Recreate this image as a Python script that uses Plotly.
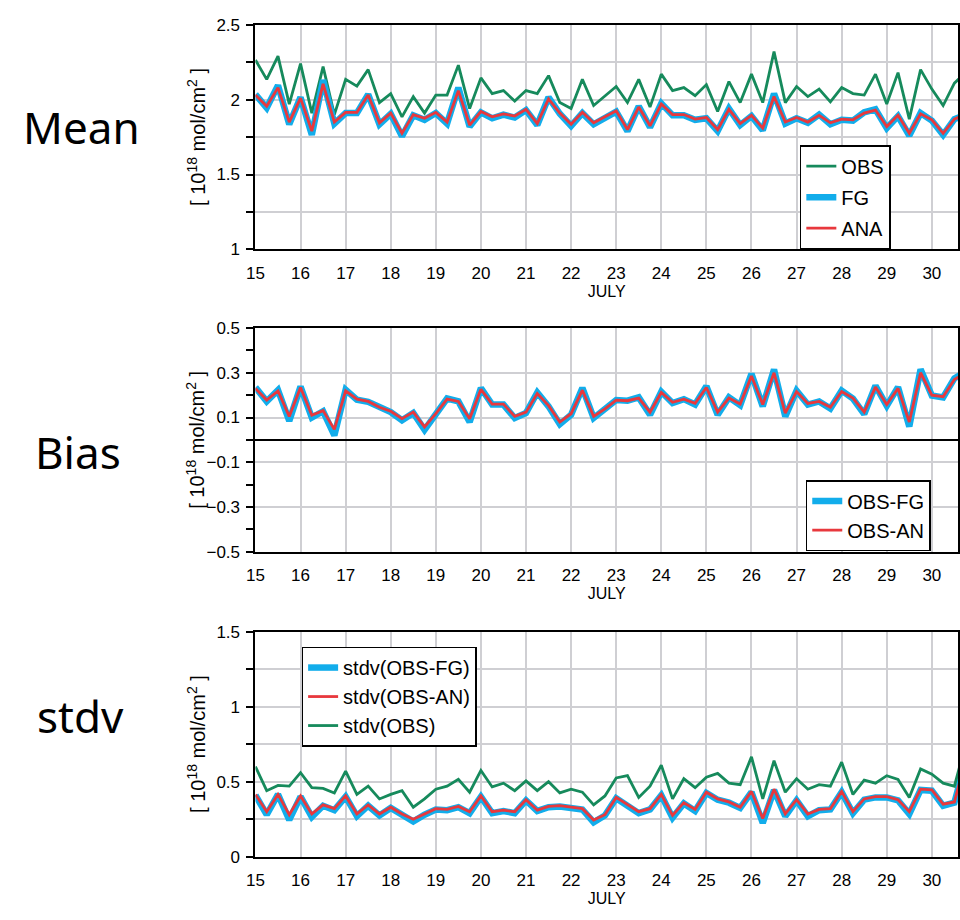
import numpy as np
import plotly.graph_objects as go

# 6-hourly analysis times, July 15 00UTC .. July 30 18UTC
days = np.arange(15.0, 31.0, 0.25)

# ---- Mean column [1e18 mol/cm2] ----
mean_obs = [2.265, 2.135, 2.29, 1.97,
            2.24, 1.91, 2.22, 1.90,
            2.135, 2.09, 2.20, 1.98,
            2.04, 1.885, 2.02, 1.91,
            2.03, 2.03, 2.23, 1.94,
            2.145, 2.04, 2.06, 1.99,
            2.06, 2.04, 2.16, 1.98,
            1.94, 2.135, 1.96, 2.026,
            2.087, 1.98, 2.135, 1.95,
            2.17, 2.06, 2.08, 2.026,
            2.10, 1.92, 2.12, 1.98,
            2.17, 1.98, 2.32, 1.98,
            2.087, 2.02, 2.07, 1.985,
            2.08, 2.04, 2.03, 2.17,
            1.97, 2.18, 1.87, 2.20,
            2.07, 1.96, 2.11, 2.18]
mean_fg = [2.035, 1.945, 2.095, 1.835,
           2.015, 1.765, 2.13, 1.84,
           1.91, 1.91, 2.035, 1.835,
           1.905, 1.755, 1.895, 1.865,
           1.91, 1.84, 2.08, 1.82,
           1.915, 1.875, 1.90, 1.88,
           1.93, 1.83, 2.015, 1.905,
           1.825, 1.91, 1.835, 1.88,
           1.92, 1.79, 1.955, 1.815,
           1.975, 1.895, 1.895, 1.865,
           1.875, 1.79, 1.94, 1.83,
           1.89, 1.795, 2.04, 1.84,
           1.875, 1.845, 1.90, 1.835,
           1.865, 1.86, 1.915, 1.935,
           1.81, 1.89, 1.76, 1.91,
           1.86, 1.765, 1.87, 1.90]
mean_ana = [2.03, 1.955, 2.08, 1.85,
            2.01, 1.79, 2.105, 1.85,
            1.915, 1.915, 2.03, 1.845,
            1.91, 1.775, 1.90, 1.875,
            1.915, 1.85, 2.06, 1.83,
            1.92, 1.885, 1.905, 1.89,
            1.935, 1.84, 2.005, 1.91,
            1.835, 1.915, 1.845, 1.885,
            1.925, 1.80, 1.95, 1.825,
            1.97, 1.90, 1.90, 1.87,
            1.88, 1.80, 1.935, 1.84,
            1.895, 1.81, 2.02, 1.85,
            1.88, 1.85, 1.895, 1.845,
            1.87, 1.865, 1.91, 1.93,
            1.82, 1.895, 1.775, 1.905,
            1.865, 1.775, 1.87, 1.90]

# ---- Bias ----
bias_fg = [0.235, 0.172, 0.222, 0.085,
           0.238, 0.10, 0.128, 0.02,
           0.224, 0.18, 0.17, 0.143,
           0.124, 0.088, 0.12, 0.045,
           0.112, 0.185, 0.172, 0.08,
           0.232, 0.158, 0.158, 0.098,
           0.12, 0.212, 0.15, 0.07,
           0.112, 0.232, 0.098, 0.135,
           0.178, 0.175, 0.19, 0.112,
           0.215, 0.165, 0.182, 0.158,
           0.24, 0.112, 0.19, 0.155,
           0.295, 0.15, 0.315, 0.105,
           0.22, 0.158, 0.172, 0.14,
           0.22, 0.185, 0.115, 0.242,
           0.152, 0.236, 0.06, 0.315,
           0.198, 0.19, 0.275, 0.305]
bias_an = [0.23, 0.178, 0.219, 0.105,
           0.234, 0.11, 0.131, 0.047,
           0.219, 0.182, 0.172, 0.146,
           0.128, 0.095, 0.124, 0.058,
           0.117, 0.182, 0.172, 0.095,
           0.226, 0.16, 0.16, 0.105,
           0.124, 0.207, 0.153, 0.08,
           0.117, 0.222, 0.105, 0.139,
           0.178, 0.175, 0.187, 0.124,
           0.212, 0.168, 0.182, 0.163,
           0.234, 0.124, 0.187, 0.16,
           0.285, 0.158, 0.30, 0.12,
           0.216, 0.163, 0.172, 0.146,
           0.216, 0.187, 0.124, 0.236,
           0.158, 0.23, 0.08, 0.30,
           0.20, 0.193, 0.27, 0.30]

# ---- Standard deviation ----
stdv_fg = [0.41, 0.28, 0.415, 0.245,
           0.40, 0.265, 0.34, 0.31,
           0.40, 0.27, 0.34, 0.275,
           0.325, 0.275, 0.235, 0.28,
           0.315, 0.31, 0.33, 0.29,
           0.40, 0.29, 0.305, 0.29,
           0.375, 0.305, 0.33, 0.335,
           0.325, 0.315, 0.23, 0.275,
           0.39, 0.34, 0.29, 0.315,
           0.41, 0.26, 0.355, 0.305,
           0.425, 0.38, 0.36, 0.325,
           0.43, 0.225, 0.445, 0.27,
           0.375, 0.27, 0.31, 0.315,
           0.43, 0.29, 0.38, 0.395,
           0.395, 0.375, 0.285, 0.445,
           0.44, 0.34, 0.36, 0.64]
stdv_an = [0.415, 0.30, 0.415, 0.28,
           0.405, 0.285, 0.345, 0.32,
           0.405, 0.285, 0.345, 0.285,
           0.33, 0.285, 0.25, 0.285,
           0.32, 0.315, 0.335, 0.30,
           0.405, 0.30, 0.31, 0.30,
           0.38, 0.31, 0.335, 0.34,
           0.33, 0.32, 0.245, 0.28,
           0.395, 0.345, 0.30, 0.32,
           0.415, 0.275, 0.36, 0.315,
           0.43, 0.385, 0.365, 0.33,
           0.435, 0.255, 0.45, 0.285,
           0.38, 0.285, 0.315, 0.32,
           0.435, 0.30, 0.385, 0.40,
           0.40, 0.38, 0.30, 0.45,
           0.445, 0.35, 0.365, 0.65]
stdv_obs = [0.60, 0.44, 0.475, 0.47,
            0.56, 0.46, 0.455, 0.425,
            0.57, 0.415, 0.47, 0.385,
            0.415, 0.44, 0.33, 0.385,
            0.45, 0.47, 0.515, 0.43,
            0.575, 0.465, 0.49, 0.44,
            0.505, 0.44, 0.50, 0.425,
            0.45, 0.43, 0.345, 0.405,
            0.525, 0.54, 0.395, 0.47,
            0.61, 0.385, 0.52, 0.46,
            0.53, 0.555, 0.49, 0.48,
            0.665, 0.385, 0.64, 0.43,
            0.52, 0.45, 0.48, 0.47,
            0.63, 0.415, 0.51, 0.49,
            0.54, 0.515, 0.395, 0.585,
            0.55, 0.49, 0.47, 0.75]

day_ticks = list(range(15, 32))
panel_names = ["Mean", "Bias", "stdv"]
unit_label = "[ 10<sup>18</sup> mol/cm<sup>2</sup> ]"

GREEN = "#168a5c"
BLUE = "#12adeb"
RED = "#e8383d"
W, H = 960, 920
FONT = "Liberation Sans, Arial, Helvetica, sans-serif"

def px_y(p):
    return 1 - p / H

# pixel extents of the three plot boxes (top, bottom)
boxes = [(16, 245.5), (325.7, 554.3), (635.7, 865.6)]
x_left = 249.3

fig = go.Figure()

def line(y, color, width, name, idx, legend):
    suffix = "" if idx == 1 else str(idx)
    fig.add_trace(go.Scatter(
        x=days, y=y, mode="lines", name=name,
        line=dict(color=color, width=width),
        xaxis="x" + suffix, yaxis="y" + suffix,
        legend=legend, legendgroup=name, showlegend=True))

line(mean_obs, GREEN, 2.8, "OBS", 1, "legend")
line(mean_fg, BLUE, 6.5, "FG", 1, "legend")
line(mean_ana, RED, 2.8, "ANA", 1, "legend")

line(bias_fg, BLUE, 6.5, "OBS-FG", 2, "legend2")
line(bias_an, RED, 2.8, "OBS-AN", 2, "legend2")

line(stdv_fg, BLUE, 6.5, "stdv(OBS-FG)", 3, "legend3")
line(stdv_an, RED, 2.8, "stdv(OBS-AN)", 3, "legend3")
line(stdv_obs, GREEN, 2.8, "stdv(OBS)", 3, "legend3")

grid_col = "#cfcfd3"
yspecs = [
    dict(range=[1, 2.5], tick0=1, dtick=0.5, minor=dict(dtick=0.25, showgrid=True,
         gridcolor=grid_col, gridwidth=1.5, ticks="outside", ticklen=7, tickwidth=1.5, tickcolor="black")),
    dict(range=[-0.5, 0.5], tick0=-0.5, dtick=0.2, minor=dict(dtick=0.1, tick0=0, showgrid=False,
         ticks="outside", ticklen=7, tickwidth=1.5, tickcolor="black"),
         zeroline=True, zerolinecolor="black", zerolinewidth=2),
    dict(range=[0, 1.5], tick0=0, dtick=0.5, minor=dict(dtick=0.25, showgrid=True,
         gridcolor=grid_col, gridwidth=1.5, ticks="outside", ticklen=7, tickwidth=1.5, tickcolor="black")),
]

layout = dict(width=W, height=H, margin=dict(l=0, r=0, t=0, b=0),
              paper_bgcolor="white", plot_bgcolor="white",
              font=dict(family=FONT, color="black"))

annotations = []
for i, ((top, bot), ys, pname) in enumerate(zip(boxes, yspecs, panel_names)):
    k = "" if i == 0 else str(i + 1)
    layout["xaxis" + k] = dict(
        domain=[x_left / W, 1.0], range=[15, 30.58], anchor="y" + k,
        tickvals=day_ticks, showgrid=True, gridcolor=grid_col, gridwidth=1.5,
        showline=True, linecolor="black", linewidth=2, mirror=True,
        ticks="", ticklabelstandoff=7, tickfont=dict(size=17, family=FONT),
        title=dict(text="JULY", font=dict(size=16, family=FONT), standoff=4),
        zeroline=False, fixedrange=True)
    ya = dict(domain=[px_y(bot), px_y(top)], anchor="x" + k,
              showgrid=True, gridcolor=grid_col, gridwidth=1.5,
              showline=True, linecolor="black", linewidth=2, mirror=True,
              ticks="outside", ticklen=7, tickwidth=1.5, tickcolor="black",
              ticklabelstandoff=3,
              tickfont=dict(size=17, family=FONT), fixedrange=True)
    ya.setdefault("zeroline", False)
    ya.update(ys)
    layout["yaxis" + k] = ya
    mid = px_y((top + bot) / 2)
    annotations.append(dict(text=unit_label, x=189 / W, y=mid, xref="paper", yref="paper",
                            textangle=-90, showarrow=False, xanchor="center", yanchor="middle",
                            font=dict(size=20, family=FONT)))

label_pos = [(73, 120), (70, 452), (72, 722)]
for name, (lx, ly) in zip(panel_names, label_pos):
    annotations.append(dict(text=name, x=lx / W, y=px_y(ly), xref="paper", yref="paper",
                            showarrow=False, xanchor="center", yanchor="middle",
                            font=dict(size=44, family="Noto Sans, DejaVu Sans, sans-serif")))
layout["annotations"] = annotations

legend_common = dict(bgcolor="white", bordercolor="black", borderwidth=1.5,
                     font=dict(size=20, family=FONT), xanchor="left", yanchor="top")
layout["legend"] = dict(legend_common, x=800 / W, y=px_y(139), tracegroupgap=2)
layout["legend2"] = dict(legend_common, x=806 / W, y=px_y(481), tracegroupgap=0)
layout["legend3"] = dict(legend_common, x=296 / W, y=px_y(651), tracegroupgap=0)

fig.update_layout(**layout)
fig.write_html("out.html")
